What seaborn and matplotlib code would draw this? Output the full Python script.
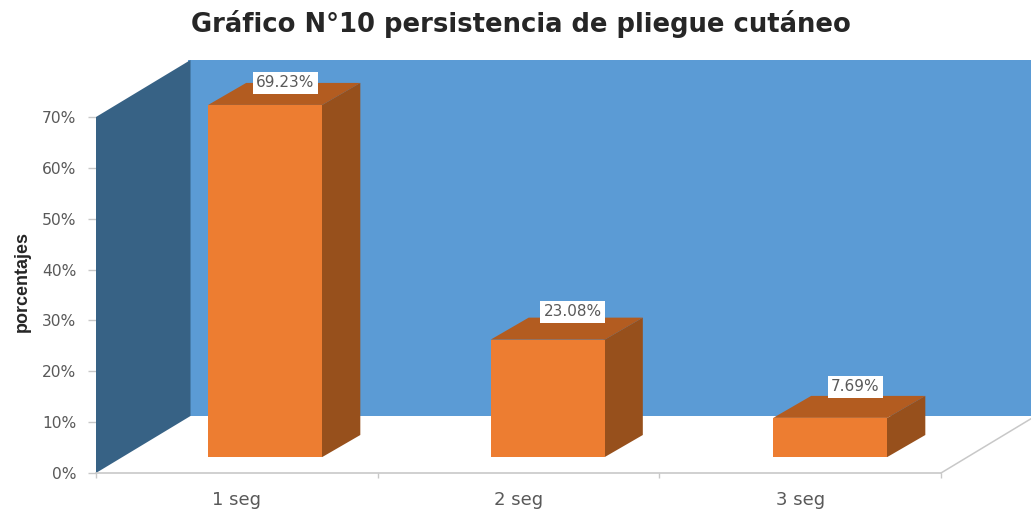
import matplotlib
matplotlib.use("Agg")
import matplotlib.pyplot as plt
from matplotlib.patches import Polygon
import pandas as pd
import seaborn as sns

# Persistence of the skin fold, share of cases per duration
categories = ["1 seg", "2 seg", "3 seg"]
percentages = [69.23, 23.08, 7.69]
value_labels = ["69.23%", "23.08%", "7.69%"]
y_ticks = [0, 10, 20, 30, 40, 50, 60, 70]

W, H = 1031, 514
FRONT = "#ED7D31"
TOP = "#B35C20"
SIDE = "#97501C"
BACK_WALL = "#5B9BD5"
SIDE_WALL = "#376285"
TEXT = "#595959"
AXIS = "#C8C8C8"

sns.set_theme(style="white")
plt.rcParams["font.family"] = ["DejaVu Sans"]

fig = plt.figure(figsize=(W / 100, H / 100), dpi=100, facecolor="white")


def axes_from_pixels(left, right, top, bottom):
    return fig.add_axes([left / W, 1 - bottom / H, (right - left) / W, (bottom - top) / H])


# Front plane of the chart box: carries the axis lines, ticks and tick labels
ax = axes_from_pixels(96, 941, 117, 473)
ax.set_xlim(0, 3)
ax.set_ylim(0, 70)
ax.patch.set_alpha(0)

# Depth of the box, expressed in the units of the front plane
box_dx = 94.5 / (845 / 3)
box_dy = 57 / (356 / 70)

# The back wall starts a little behind the side wall so no seam shows between them
ax.add_patch(Polygon([(box_dx - 0.01, box_dy), (3 + box_dx, box_dy), (3 + box_dx, 70 + box_dy), (box_dx - 0.01, 70 + box_dy)],
                     closed=True, fc=BACK_WALL, ec="none", clip_on=False, zorder=1))
ax.add_patch(Polygon([(0, 0), (box_dx, box_dy), (box_dx, 70 + box_dy), (0, 70)],
                     closed=True, fc=SIDE_WALL, ec="none", clip_on=False, zorder=2))
ax.plot([3, 3 + box_dx], [0, box_dy], color=AXIS, lw=1.1, clip_on=False, zorder=2)

for name in ("top", "right", "left"):
    ax.spines[name].set_visible(False)
ax.spines["bottom"].set_color(AXIS)
ax.spines["bottom"].set_linewidth(1.2)

ax.set_yticks(y_ticks)
ax.set_yticklabels([f"{v}%" for v in y_ticks], fontsize=11.2, color=TEXT)
ax.set_xticks([0, 1, 2, 3])
ax.set_xticklabels([])
ax.tick_params(axis="y", which="major", length=5.8, width=1, color=AXIS, left=True, pad=8.4)
ax.tick_params(axis="x", which="major", length=3.6, width=1, color=AXIS, bottom=True)
for pos, name in zip([0.5, 1.5, 2.5], categories):
    ax.annotate(name, (pos, 0), xytext=(0, -19.4), textcoords="offset points",
                ha="center", va="center", fontsize=13, color=TEXT)

ax.set_ylabel("")
fig.text(22 / W, 1 - 282 / H, "porcentajes", rotation=90, ha="center", va="center", fontsize=13,
         fontweight="bold", color="#262626", family=["Liberation Sans Narrow", "Liberation Sans"])

# Bars stand on the floor of the box, slightly behind the front plane
bar_ax = axes_from_pixels(124, 971.5, 101, 457)
bar_ax.patch.set_alpha(0)
table = pd.DataFrame({"duracion": categories, "porcentaje": percentages})
sns.barplot(data=table, x="duracion", y="porcentaje", color=FRONT, saturation=1, width=0.404,
            ax=bar_ax, zorder=5, edgecolor="none")
bar_ax.set_xlim(-0.5, 2.5)
bar_ax.set_ylim(0, 70)
bar_ax.axis("off")

bar_dx = 38 / (847.5 / 3)
bar_dy = 22 / (356 / 70)
half = 0.404 / 2
overlap = 0.004
label_offsets = [(14.5, 16), (18, 20), (18, 22.5)]
for i, (value, label, offset) in enumerate(zip(percentages, value_labels, label_offsets)):
    left, right = i - half, i + half
    bar_ax.add_patch(Polygon([(left, value), (right, value), (right + bar_dx, value + bar_dy), (left + bar_dx, value + bar_dy)],
                             closed=True, fc=TOP, ec="none", clip_on=False, zorder=4))
    bar_ax.add_patch(Polygon([(right - overlap, 0), (right, 0), (right + bar_dx, bar_dy), (right + bar_dx, value + bar_dy), (right, value), (right - overlap, value)],
                             closed=True, fc=SIDE, ec="none", clip_on=False, zorder=4))
    bar_ax.annotate(label, (i, value), xytext=offset, textcoords="offset points", ha="center", va="center",
                    fontsize=11, color=TEXT, zorder=7, annotation_clip=False,
                    bbox=dict(boxstyle="square,pad=0.22", fc="white", ec="none"))

fig.text(521 / W, 1 - 24 / H, "Gráfico N°10 persistencia de pliegue cutáneo", ha="center", va="center",
         fontsize=18.6, fontweight="bold", color="#262626")

fig.savefig("out.png", dpi=100, facecolor="white")
